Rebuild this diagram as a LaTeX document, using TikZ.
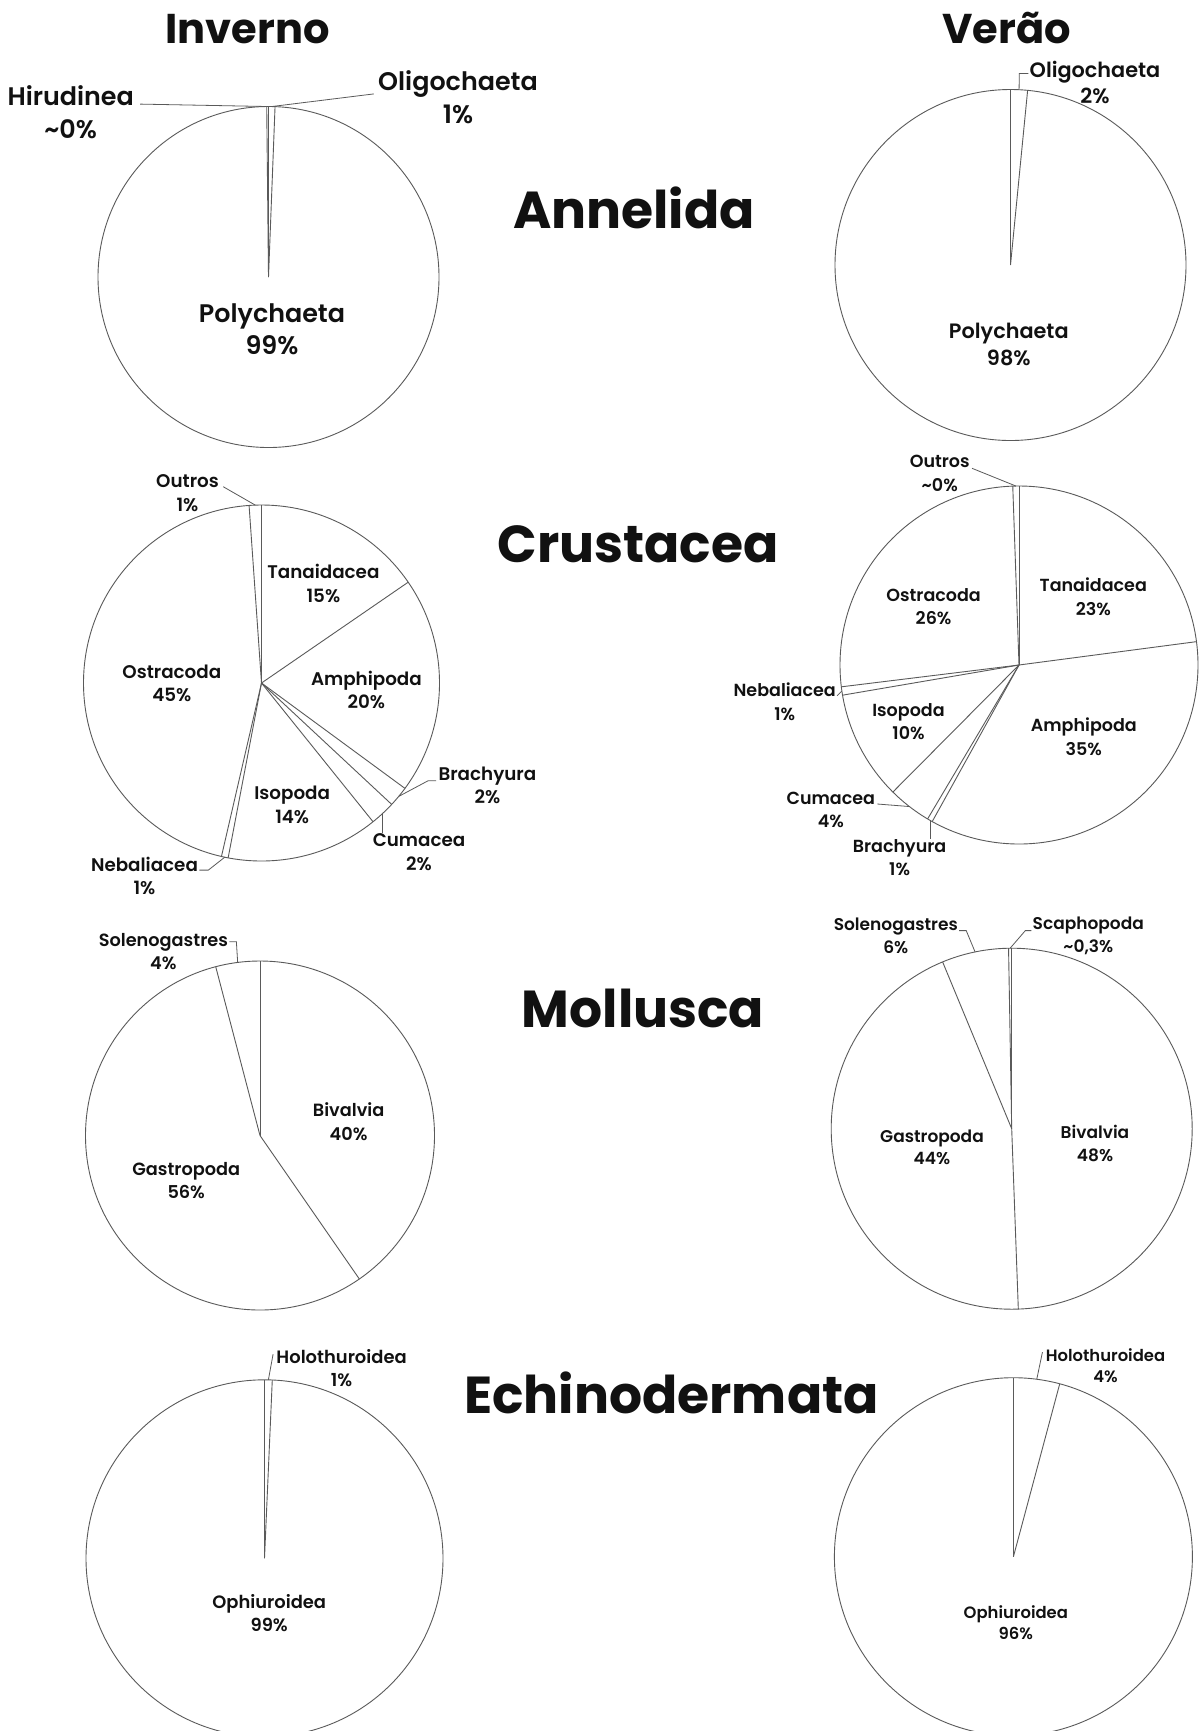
\documentclass[tikz,border=0pt]{standalone}
\usepackage{fontspec}
\setmainfont{Poppins}[BoldFont={Poppins SemiBold}]
\newfontfamily\headfont{Poppins Bold}
\usepackage{tikz}
\definecolor{rim}{HTML}{5A5A5A}
\definecolor{ink}{HTML}{111111}

\begin{document}
\begin{tikzpicture}[x=0.5pt,y=0.5pt,pie/.style={draw=rim,line width=0.45pt},lead/.style={draw=rim,line width=0.4pt},head/.style={font=\headfont\fontsize{20.8}{24}\selectfont,text=ink,anchor=base,inner sep=0pt},group/.style={font=\headfont\fontsize{26}{30}\selectfont,text=ink,anchor=base,inner sep=0pt},lbl/.style 2 args={font=\bfseries\fontsize{#1}{#2}\selectfont,text=ink,align=center,inner sep=0pt}]
\useasboundingbox[fill=white] (0,0) rectangle (1204,-1731);
% headings
\node[head] (winter) at (247.4,-43.3) {Inverno};
\node[head] (summer) at (1006.5,-43.3) {Verão};
\node[group] (ann) at (634,-228.3) {Annelida};
\node[group] (cru) at (638,-562.8) {Crustacea};
\node[group] (mol) at (643,-1027.5) {Mollusca};
\node[group] (ech) at (671.5,-1413.7) {Echinodermata};
% Annelida, Inverno
\coordinate (a1) at (268.5,-277);
\draw[pie] (a1) circle (170.5);
\foreach \a in {90.6,90,87.8} \draw[pie] (a1) -- ++(\a:170.5);
\path (a1) ++(90.3:170.5) coordinate (a1hirE) (a1) ++(88.9:170.5) coordinate (a1oliE);
\node[lbl={12.7}{16}] (a1pol) at (272,-329) {Polychaeta\\99\%};
\node[lbl={12.7}{16.5}] (a1hir) at (70.7,-111.7) {Hirudinea\\\textasciitilde0\%};
\node[lbl={12.7}{16.5}] (a1oli) at (458,-96.7) {Oligochaeta\\1\%};
\draw[lead] ([shift={(3pt,3.8pt)}]a1hir.east) -- (a1hirE);
\draw[lead] ([shift={(-2pt,1.4pt)}]a1oli.west) -- (a1oliE);
% Annelida, Verao
\coordinate (a2) at (1010.5,-265);
\draw[pie] (a2) circle (175.5);
\foreach \a in {90,84.4} \draw[pie] (a2) -- ++(\a:175.5);
\path (a2) ++(87.2:175.5) coordinate (a2oliE);
\node[lbl={10.4}{13.3}] (a2pol) at (1008.8,-344.5) {Polychaeta\\98\%};
\node[lbl={10.4}{13.3}] (a2oli) at (1095,-82.5) {Oligochaeta\\2\%};
\draw[lead] ([shift={(-0.5pt,4.5pt)}]a2oli.west) -- ++(-9,0) -- (a2oliE);
% Crustacea, Inverno
\coordinate (c1) at (261.5,-683);
\draw[pie] (c1) circle (178);
\foreach \a in {90,34.5,-36.3,-43,-51.2,-100.8,-103,94} \draw[pie] (c1) -- ++(\a:178);
\path (c1) ++(92:178) coordinate (c1outE) (c1) ++(-39.6:178) coordinate (c1braE)
  (c1) ++(-47.1:178) coordinate (c1cumE) (c1) ++(-101.9:178) coordinate (c1nebE);
\node[lbl={9.15}{11.7}] (c1out) at (187.5,-493.3) {Outros\\1\%};
\node[lbl={9.15}{11.7}] (c1tan) at (323.4,-583.3) {Tanaidacea\\15\%};
\node[lbl={9.15}{11.7}] (c1amp) at (366.4,-690) {Amphipoda\\20\%};
\node[lbl={9.15}{11.7}] (c1ost) at (171.8,-683.3) {Ostracoda\\45\%};
\node[lbl={9.15}{11.7}] (c1iso) at (292.2,-805) {Isopoda\\14\%};
\node[lbl={9.15}{11.7}] (c1bra) at (487.4,-785.3) {Brachyura\\2\%};
\node[lbl={9.15}{11.7}] (c1cum) at (419,-852) {Cumacea\\2\%};
\node[lbl={9.15}{11.7}] (c1neb) at (144.5,-875.7) {Nebaliacea\\1\%};
\draw[lead] ([shift={(2pt,3.3pt)}]c1out.east) -- (c1outE);
\draw[lead] ([shift={(-1pt,2.3pt)}]c1bra.west) -- ++(-8,0) -- (c1braE);
\draw[lead] (c1cumE) -- (c1cumE |- c1cum.north);
\draw[lead] ([shift={(0.5pt,2.8pt)}]c1neb.east) -- ++(9,0) -- (c1nebE);
% Crustacea, Verao
\coordinate (c2) at (1019,-665);
\draw[pie] (c2) circle (179);
\foreach \a in {90,7.5,-119,-120.7,-134.8,-170.3,-173,92} \draw[pie] (c2) -- ++(\a:179);
\path (c2) ++(91:179) coordinate (c2outE) (c2) ++(-171.65:179) coordinate (c2nebE)
  (c2) ++(-127.75:179) coordinate (c2cumE) (c2) ++(-119.85:179) coordinate (c2braE);
\node[lbl={8.75}{11.7}] (c2out) at (939.7,-473.3) {Outros\\\textasciitilde0\%};
\node[lbl={8.75}{11.7}] (c2ost) at (933.6,-606.7) {Ostracoda\\26\%};
\node[lbl={8.75}{11.7}] (c2tan) at (1093.3,-596.7) {Tanaidacea\\23\%};
\node[lbl={8.75}{11.7}] (c2neb) at (784.7,-701.7) {Nebaliacea\\1\%};
\node[lbl={8.75}{11.7}] (c2iso) at (908.5,-721.7) {Isopoda\\10\%};
\node[lbl={8.75}{11.7}] (c2amp) at (1083.8,-736.7) {Amphipoda\\35\%};
\node[lbl={8.75}{11.7}] (c2cum) at (830.8,-810) {Cumacea\\4\%};
\node[lbl={8.75}{11.7}] (c2bra) at (899.6,-857.7) {Brachyura\\1\%};
\draw[lead] ([shift={(1pt,2.5pt)}]c2out.east) -- (c2outE);
\draw[lead] ([shift={(0.5pt,3pt)}]c2neb.east) -- (c2nebE);
\draw[lead] ([shift={(1pt,3pt)}]c2cum.east) -- (c2cumE);
\draw[lead] (c2braE) -- (c2braE |- c2bra.north);
% Mollusca, Inverno
\coordinate (m1) at (260,-1135.5);
\draw[pie] (m1) circle (174.5);
\foreach \a in {90,-55.3,104.7} \draw[pie] (m1) -- ++(\a:174.5);
\path (m1) ++(97.35:174.5) coordinate (m1solE);
\node[lbl={8.85}{11.7}] (m1sol) at (163.4,-951.7) {Solenogastres\\4\%};
\node[lbl={8.85}{11.7}] (m1biv) at (348.6,-1121.7) {Bivalvia\\40\%};
\node[lbl={8.85}{11.7}] (m1gas) at (186.2,-1180.5) {Gastropoda\\56\%};
\draw[lead] ([shift={(0.5pt,5pt)}]m1sol.east) -- ++(7,0) -- (m1solE);
% Mollusca, Verao
\coordinate (m2) at (1011.7,-1128.7);
\draw[pie] (m2) circle (180.5);
\foreach \a in {90,-87.9,112.5,91} \draw[pie] (m2) -- ++(\a:180.5);
\path (m2) ++(101.7:180.5) coordinate (m2solE) (m2) ++(90.5:180.5) coordinate (m2scaE);
\node[lbl={8.5}{11.2}] (m2sol) at (895.8,-935.8) {Solenogastres\\6\%};
\node[lbl={8.5}{11.2}] (m2sca) at (1088.3,-935.8) {Scaphopoda\\\textasciitilde0,3\%};
\node[lbl={8.5}{11.2}] (m2gas) at (932,-1147) {Gastropoda\\44\%};
\node[lbl={8.5}{11.2}] (m2biv) at (1095,-1143.3) {Bivalvia\\48\%};
\draw[lead] ([shift={(0.5pt,2.6pt)}]m2sol.east) -- ++(7,0) -- (m2solE);
\draw[lead] ([shift={(-0.5pt,2.6pt)}]m2sca.west) -- ++(-6,0) -- (m2scaE);
% Echinodermata, Inverno
\coordinate (e1) at (264.5,-1558.3);
\draw[pie] (e1) circle (178.5);
\foreach \a in {90,87.5} \draw[pie] (e1) -- ++(\a:178.5);
\path (e1) ++(88.75:178.5) coordinate (e1holE);
\node[lbl={8.95}{11.7}] (e1hol) at (341.6,-1368.3) {Holothuroidea\\1\%};
\node[lbl={8.95}{11.7}] (e1oph) at (269.2,-1613.3) {Ophiuroidea\\99\%};
\draw[lead] ([shift={(-1.5pt,-2.5pt)}]e1hol.north west) -- (e1holE);
% Echinodermata, Verao
\coordinate (e2) at (1013.4,-1556.7);
\draw[pie] (e2) circle (179);
\foreach \a in {90,75} \draw[pie] (e2) -- ++(\a:179);
\path (e2) ++(82.5:179) coordinate (e2holE);
\node[lbl={8.2}{10.8}] (e2hol) at (1105.5,-1365.8) {Holothuroidea\\4\%};
\node[lbl={8.2}{10.8}] (e2oph) at (1015.8,-1622.5) {Ophiuroidea\\96\%};
\draw[lead] ([shift={(-1.5pt,-2pt)}]e2hol.north west) -- (e2holE);
\end{tikzpicture}
\end{document}
